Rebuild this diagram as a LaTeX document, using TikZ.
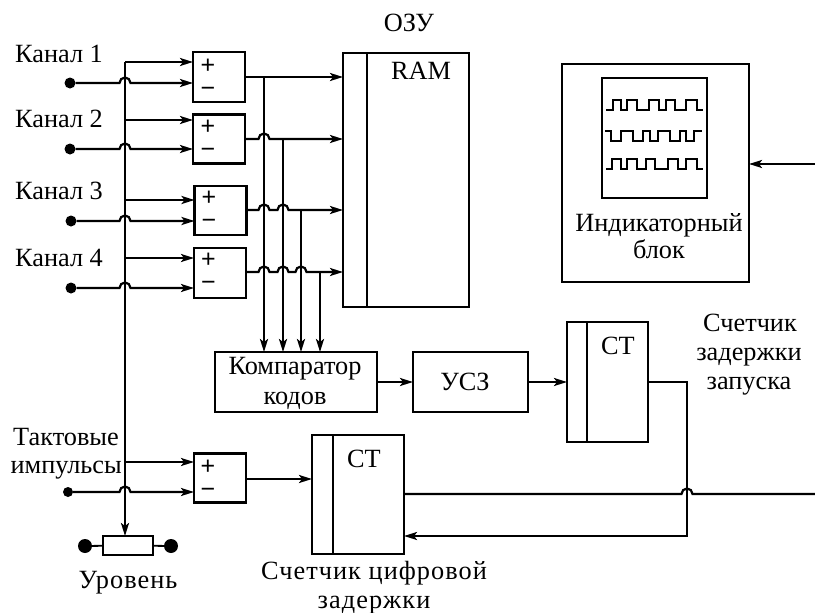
\documentclass[tikz,border=0pt]{standalone}
\usepackage{fontspec}
\setmainfont{Liberation Serif}
\newfontfamily\signfont{Liberation Sans}
\usetikzlibrary{arrows.meta}
\tikzset{
  blk/.style={draw=black,line width=2.2pt,fill=white,inner sep=0pt,outer sep=0pt},
  wire/.style={draw=black,line width=2.2pt,line join=miter},
  arr/.style={wire,-{Stealth[length=13pt,width=8pt,inset=3pt]}},
  thin wire/.style={draw=black,line width=1.8pt},
  dot/.style={circle,fill=black,inner sep=0pt,outer sep=0pt,minimum size=#1},
  lbl/.style={font=\fontsize{26.3}{30}\selectfont,align=center,inner sep=0pt},
  wide lbl/.style={lbl,font=\fontsize{26.3}{30}\selectfont\addfontfeature{LetterSpace=4}},
  sign/.style={font=\signfont\fontsize{25}{25}\selectfont,inner sep=0pt},
  wave/.style={draw=black,line width=1.6pt,line join=miter},
}
\newcommand{\hopover}[2]{-- (#1-5.5,#2) arc[start angle=180,end angle=360,radius=5.5]}
\begin{document}
\begin{tikzpicture}[x=1pt,y=-1pt]
\useasboundingbox (0,0) rectangle (815,613);
% blocks
\node[blk,minimum width=52pt,minimum height=50pt] (s1) at (219,77) {};
\node[blk,minimum width=52pt,minimum height=49pt] (s2) at (219,139) {};
\node[blk,minimum width=52pt,minimum height=49pt] (s3) at (220.5,210.5) {};
\node[blk,minimum width=52pt,minimum height=50pt] (s4) at (220,273) {};
\node[blk,minimum width=52pt,minimum height=49pt] (s5) at (220,478) {};
\node[blk,minimum width=126pt,minimum height=254pt] (ram) at (406,180) {};
\node[blk,minimum width=162pt,minimum height=60pt] (cmp) at (296,382) {};
\node[blk,minimum width=115pt,minimum height=60pt] (usz) at (470.5,382) {};
\node[blk,minimum width=81pt,minimum height=120pt] (ct1) at (607.5,382) {};
\node[blk,minimum width=92pt,minimum height=119pt] (ct2) at (358,494.5) {};
\node[blk,minimum width=187pt,minimum height=218pt] (ind) at (655.5,173) {};
\node[blk,minimum width=105pt,minimum height=120pt] (scr) at (654.5,138) {};
\node[blk,line width=1.8pt,minimum width=50pt,minimum height=19pt] (res) at (128,545.5) {};
\draw[wire,line width=1.8pt] (367,53) -- (367,307);
\draw[wire,line width=1.8pt] (587,322) -- (587,442);
\draw[wire,line width=1.8pt] (333,435) -- (333,554);
% terminals
\node[dot=11pt] (d1) at (70,83) {};
\node[dot=11pt] (d2) at (70,149) {};
\node[dot=11pt] (d3) at (71,221) {};
\node[dot=11pt] (d4) at (71,288) {};
\node[dot=10pt] (d5) at (68,492) {};
\node[dot=14pt] (rl) at (85,546) {};
\node[dot=14pt] (rr) at (171,546) {};
\draw[thin wire] (rl) -- (res);
\draw[thin wire] (res) -- (rr);
% bus
\coordinate (bustop) at (125,62);
\draw[arr] (bustop) -- (res.north -| bustop);
\draw[arr] (bustop) -- (s1.west |- bustop);
\draw[arr] (125,120) -- (s2.west |- 125,120);
\draw[arr] (125,200) -- (s3.west |- 125,200);
\draw[arr] (125,258) -- (s4.west |- 125,258);
\draw[arr] (125,462) -- (s5.west |- 125,462);
% minus inputs
\draw[arr] (d1) \hopover{125}{83} -- (s1.west |- d1);
\draw[arr] (d2) \hopover{125}{149} -- (s2.west |- d2);
\draw[arr] (d3) \hopover{125}{221} -- (s3.west |- d3);
\draw[arr] (d4) \hopover{125}{288} -- (s4.west |- d4);
\draw[arr] (d5) \hopover{125}{492} -- (s5.west |- d5);
% outputs to RAM
\draw[arr] (s1.east) -- (ram.west |- s1.east);
\draw[arr] (s2.east) \hopover{264}{139} -- (ram.west |- s2.east);
\draw[arr] (s3.east |- 0,210) \hopover{264}{210} \hopover{283}{210} -- (ram.west |- 0,210);
\draw[arr] (s4.east |- 0,272) \hopover{264}{272} \hopover{283}{272} \hopover{301}{272} -- (ram.west |- 0,272);
% verticals to comparator
\draw[arr] (264,77) -- (cmp.north -| 264,77);
\draw[arr] (283,139) -- (cmp.north -| 283,139);
\draw[arr] (301,210) -- (cmp.north -| 301,210);
\draw[arr] (320,272) -- (cmp.north -| 320,272);
% lower chain
\draw[arr] (cmp.east) -- (usz.west);
\draw[arr] (usz.east) -- (ct1.west);
\draw[arr] (s5.east |- 0,479) -- (ct2.west |- 0,479);
\coordinate (fbturn) at (687,536);
\draw[arr] (ct1.east) -| (fbturn) -- (ct2.east |- fbturn);
\coordinate (right1) at (815,494);
\coordinate (right2) at (815,164);
\draw[wire] (ct2.east |- right1) \hopover{687}{494} -- (right1);
\draw[arr] (right2) -- (ind.east |- right2);
% waveforms
\draw[wave] (606,110) -- (613,110) -- (613,100) -- (621,100) -- (621,110) -- (627,110) -- (627,100) -- (637,100) -- (637,110) -- (649,110) -- (649,100) -- (659,100) -- (659,110) -- (666,110) -- (666,100) -- (675,100) -- (675,110) -- (686,110) -- (686,100) -- (697,100) -- (697,110) -- (703,110);
\draw[wave] (605,131) -- (611,131) -- (611,141) -- (621,141) -- (621,131) -- (633,131) -- (633,141) -- (643,141) -- (643,131) -- (650,131) -- (650,141) -- (658,141) -- (658,131) -- (670,131) -- (670,141) -- (680,141) -- (680,131) -- (686,131) -- (686,141) -- (694,141) -- (694,131) -- (702,131);
\draw[wave] (606,169) -- (612,169) -- (612,159) -- (621,159) -- (621,169) -- (627,169) -- (627,159) -- (637,159) -- (637,169) -- (646,169) -- (646,159) -- (655,159) -- (655,169) -- (668,169) -- (668,159) -- (678,159) -- (678,169) -- (686,169) -- (686,159) -- (697,159) -- (697,169) -- (703,169);
% signs
\foreach \n/\px/\yp/\ym in {a/208/66/92,b/208/127/153,c/209/198/224,d/208.5/260/286,e/208/467/493}{
  \node[sign] (plus\n) at (\px,\yp) {+};
  \node[sign] (minus\n) at (\px,\ym) {−};
}
% labels
\node[lbl,anchor=base west] (l1) at (15,62) {Канал 1};
\node[lbl,anchor=base west] (l2) at (15,127) {Канал 2};
\node[lbl,anchor=base west] (l3) at (15,199) {Канал 3};
\node[lbl,anchor=base west] (l4) at (15,266) {Канал 4};
\node[lbl,anchor=base] (l5) at (409,31) {ОЗУ};
\node[lbl,anchor=base] (l6) at (421,79) {RAM};
\node[lbl,anchor=base] (l7) at (659,231) {Индикаторный};
\node[lbl,anchor=base] (l8) at (659,258) {блок};
\node[lbl,anchor=base] (l9) at (295,374) {Компаратор};
\node[lbl,anchor=base] (l10) at (295,404) {кодов};
\node[lbl,anchor=base] (l11) at (465,390) {УСЗ};
\node[lbl,anchor=base] (l12) at (618,354) {СТ};
\node[lbl,anchor=base] (l13) at (364,467) {СТ};
\node[lbl,anchor=base] (l14) at (750,331) {Счетчик};
\node[lbl,anchor=base] (l15) at (749,360) {задержки};
\node[lbl,anchor=base] (l16) at (749,389) {запуска};
\node[lbl,anchor=base east] (l17) at (119,445) {Тактовые};
\node[lbl,anchor=base east] (l18) at (122,473) {импульсы};
\node[wide lbl,anchor=base] (l19) at (128,588) {Уровень};
\node[wide lbl,anchor=base] (l20) at (374,579) {Счетчик цифровой};
\node[wide lbl,anchor=base] (l21) at (374,608) {задержки};
\end{tikzpicture}
\end{document}
